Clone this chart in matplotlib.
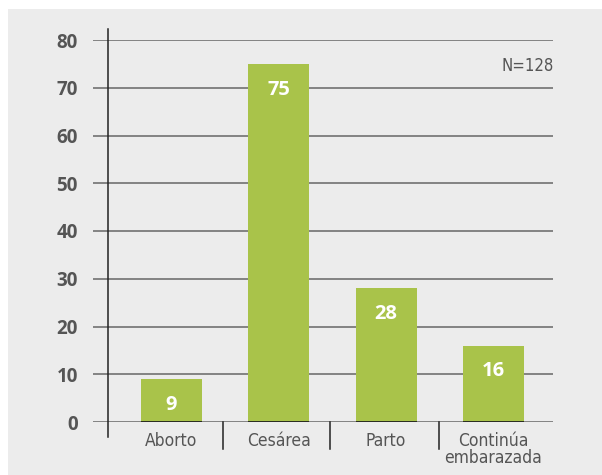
import matplotlib.pyplot as plt
from matplotlib.patches import Rectangle
from matplotlib import font_manager

# datos
categorias = ['Aborto', 'Cesárea', 'Parto', 'Continúa\nembarazada']
valores = [9, 75, 28, 16]
yticks = [0, 10, 20, 30, 40, 50, 60, 70, 80]
total_n = 'N=128'

verde = '#a9c34a'
gris_txt = '#555555'
fondo = '#ececec'

W, H = 602, 475
fig = plt.figure(figsize=(W / 100, H / 100), dpi=100, facecolor='white')
fig.add_artist(Rectangle((8 / W, 0), 1, 1 - 9 / H, transform=fig.transFigure,
                         facecolor=fondo, edgecolor='none', zorder=-10))

ax = fig.add_axes([93 / W, 53 / H, (553 - 93) / W, (422 - 40) / H])
ax.set_facecolor('none')
ax.set_xlim(-0.732, 3.556)
ax.set_ylim(0, 80)

for v in yticks:
    ax.axhline(v, color='#666666', lw=1.1, zorder=1)

x = range(len(categorias))
ax.bar(x, valores, width=0.57, color=verde, zorder=2)
for i, v in enumerate(valores):
    ax.plot([i - 0.285, i + 0.285], [0, 0], color='#1e1e1e', lw=1.3, zorder=3,
            solid_capstyle='butt')
    ax.text(i, v - 5.4, str(v), ha='center', va='center', color='white',
            fontsize=14.5, fontweight='bold', family='Open Sans', zorder=4)

# eje vertical y separadores de categorias
ax.plot([-0.592, -0.592], [-3.2, 82.4], color='#222222', lw=1.1, clip_on=False, zorder=3)
for s in [0.48, 1.477, 2.49]:
    ax.plot([s, s], [0, -5.6], color='#222222', lw=1.1, clip_on=False, zorder=3)

ax.set_yticks(yticks)
ax.set_yticklabels([str(t) for t in yticks], fontsize=13.5, fontweight='bold',
                   color=gris_txt, family='Open Sans')
ax.set_xticks(list(x))
ax.set_xticklabels(categorias, color=gris_txt, linespacing=0.95,
                   fontproperties=font_manager.FontProperties(
                       family='DejaVu Sans', stretch='condensed', size=12.5))
ax.tick_params(axis='y', length=0, pad=11)
ax.tick_params(axis='x', length=0, pad=7)
for sp in ax.spines.values():
    sp.set_visible(False)

ax.text(3.565, 74.5, total_n, ha='right', va='center', color=gris_txt,
        fontproperties=font_manager.FontProperties(family='DejaVu Sans',
                                                   stretch='condensed', size=12))

fig.savefig('out.png', dpi=100, facecolor='white')
